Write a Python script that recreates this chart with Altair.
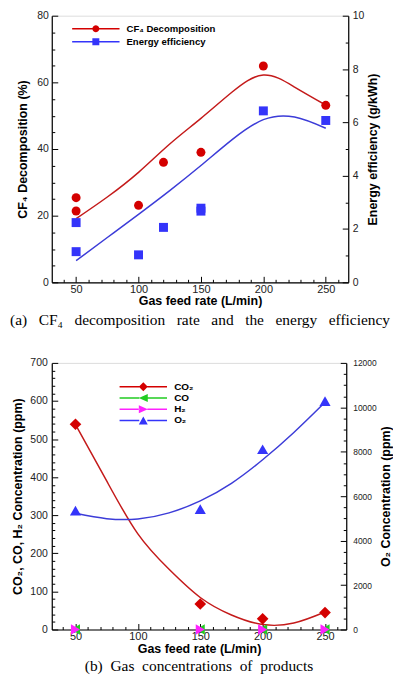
import math
import altair as alt
import pandas as pd

# ---------------- data ----------------
# (a) CF4 decomposition / energy efficiency
cf4_x = [50, 50, 100, 120, 150, 200, 250]
cf4_y = [25.4, 21.4, 23.1, 36.0, 39.0, 64.9, 53.1]
eff_x = [50, 50, 100, 120, 150, 150, 200, 250]
eff_y = [2.24, 1.15, 1.03, 2.06, 2.78, 2.67, 6.43, 6.07]
fit_x = [50, 75, 100, 125, 150, 175, 200, 225, 250]
cf4_fit = [19.1, 25.6, 33.0, 41.5, 49.2, 57.1, 62.2, 58.6, 53.2]
eff_fit = [0.81, 1.68, 2.55, 3.44, 4.38, 5.35, 6.10, 6.20, 5.78]

# (b) product gas concentrations
gas_x = [50, 150, 200, 250]
co2_y = [539, 67, 28, 44.5]
co_y = [0, 0, 0, 0]
h2_y = [0, 0, 0, 0]
o2_y = [5350, 5420, 8115, 10280]
co2_fit = [538, 390, 251, 158, 84, 38, 13, 17, 46]
o2_fit = [5230, 4990, 4975, 5250, 5790, 6580, 7640, 8870, 10230]

# tick labels
x_major = [50, 100, 150, 200, 250]
ya_left_major = [0, 20, 40, 60, 80]
ya_right_major = [0, 2, 4, 6, 8, 10]
yb_left_major = [0, 100, 200, 300, 400, 500, 600, 700]
yb_right_major = [0, 2000, 4000, 6000, 8000, 10000, 12000]

legend_a = ["CF\u2084 Decomposition", "Energy efficiency"]
legend_b = ["CO\u2082", "CO", "H\u2082", "O\u2082"]

# ---------------- styling ----------------
SANS = "Liberation Sans"
SERIF = "Liberation Serif"
RED_PT, RED_LN = "#d40000", "#c41a1a"
BLUE_PT, BLUE_LN = "#3434fa", "#3c3cd8"
GREEN, MAGENTA = "#22cc22", "#ff22ff"


def minor(lo, hi, step):
    out, v = [], lo
    while v <= hi + 1e-9:
        out.append(round(v, 4))
        v += step
    return out


def axis(orient, title, values, major_step, label_pad, label_size, **kw):
    is_major = f"abs(datum.value % {major_step}) < 1e-6"
    base = dict(
        orient=orient, title=title, values=values, format="d",
        labelExpr=f"{is_major} ? datum.label : ''",
        tickSize={"expr": "-6"}, tickColor="black", tickWidth=1,
        tickDash={"condition": {"test": f"!({is_major})", "value": [3, 20]}, "value": [20, 1]},
        labelPadding=label_pad + 6,
        domainColor="black", domainWidth=1.2,
        labelFont=SANS, labelFontSize=label_size, labelColor="#222",
        labelOverlap=False, labelFlush=False, labelBound=False,
        titleFont=SANS, titleFontSize=12.5, titleFontWeight="bold", titleColor="black",
        grid=False,
    )
    base.update(kw)
    return alt.Axis(**base)


def legend_path(marker, half_len, thick):
    bars = (f"M{-half_len},{-thick}H-0.9V{thick}H{-half_len}Z"
            f"M0.9,{-thick}H{half_len}V{thick}H0.9Z")
    return bars + marker


CIRCLE = "M" + "L".join(f"{math.cos(2 * math.pi * k / 20):.3f},{math.sin(2 * math.pi * k / 20):.3f}"
                        for k in range(20)) + "Z"
SQUARE = "M-1,-1H1V1H-1Z"
DIAMOND = "M-1,0L0,-1L1,0L0,1Z"
TRI_L = "M-1,0L1,-0.87L1,0.87Z"
TRI_R = "M1,0L-1,-0.87L-1,0.87Z"
TRI_U = "M0,-0.87L1,0.87L-1,0.87Z"

SP3 = "\u00a0\u00a0 "
SP2 = "\u00a0 "
cap_a = SP3.join(["(a)", "CF\u2084", "decomposition", "rate", "and", "the", "energy", "efficiency"])
cap_b = SP2.join(["(b)", "Gas", "concentrations", "of", "products"])

# ================= chart (a) =================
xa_scale = alt.Scale(domain=[30.5, 268], nice=False, zero=False)
xa_axis = axis("bottom", "Gas feed rate (L/min)", minor(40, 260, 10), 50, 1, 11, titlePadding=0.5)
ya_l_scale = alt.Scale(domain=[0, 80], nice=False)
ya_l_axis = axis("left", "CF\u2084 Decomposition (%)", minor(0, 80, 5), 20, 3.5, 10.5, titlePadding=7.5)
ya_r_scale = alt.Scale(domain=[0, 10], nice=False)
ya_r_axis = axis("right", "Energy efficiency (g/kWh)", minor(0, 10, 0.5), 2, 4, 10.5,
                 titlePadding=3, titleAngle=270, titleBaseline="top")

xa = alt.X("x:Q", scale=xa_scale, axis=xa_axis)

df_cf4 = pd.DataFrame({"x": cf4_x, "y": cf4_y})
df_eff = pd.DataFrame({"x": eff_x, "y": eff_y})
df_fit_a = pd.DataFrame({"x": fit_x, "cf4": cf4_fit, "eff": eff_fit})
df_leg_a = pd.DataFrame({"sa": legend_a, "x": [-1, -1], "y": [0, 0]})

ya_l = alt.Y("y:Q", scale=ya_l_scale, axis=ya_l_axis)
red_line = alt.Chart(df_fit_a).mark_line(color=RED_LN, strokeWidth=1.5, interpolate="natural").encode(
    x=xa, y=alt.Y("cf4:Q", scale=ya_l_scale, axis=ya_l_axis))
red_pts = alt.Chart(df_cf4).mark_point(shape="circle", filled=True, size=81, opacity=1, color=RED_PT).encode(
    x=xa, y=ya_l)
leg_a_kw = dict(title=None, orient="none", legendX=39.5, legendY=8.3, padding=0,
                labelFont=SANS, labelFontSize=9.6, labelFontWeight="bold", labelColor="black",
                symbolSize=49, symbolStrokeWidth=0, labelOffset=26, rowPadding=2)
leg_a = alt.Chart(df_leg_a).mark_point(filled=True, opacity=1).encode(
    x=xa, y=ya_l,
    color=alt.Color("sa:N", scale=alt.Scale(domain=legend_a, range=[RED_PT, BLUE_PT]),
                    legend=alt.Legend(**leg_a_kw)),
    shape=alt.Shape("sa:N", scale=alt.Scale(domain=legend_a, range=[
        legend_path(CIRCLE, 6.8, 0.21), legend_path(SQUARE, 6.8, 0.21)]),
        legend=alt.Legend(**leg_a_kw)),
).transform_filter("datum.x > 0")
left_a = alt.layer(red_line, red_pts, leg_a)

ya_r = alt.Y("y:Q", scale=ya_r_scale, axis=ya_r_axis)
blue_line = alt.Chart(df_fit_a).mark_line(color=BLUE_LN, strokeWidth=1.5, interpolate="natural").encode(
    x=xa, y=alt.Y("eff:Q", scale=ya_r_scale, axis=ya_r_axis))
blue_pts = alt.Chart(df_eff).mark_point(shape="square", filled=True, size=81, opacity=1, color=BLUE_PT).encode(
    x=xa, y=ya_r)
right_a = alt.layer(blue_line, blue_pts)

chart_a = alt.layer(left_a, right_a).resolve_scale(y="independent").properties(
    width=298, height=268,
    title=alt.TitleParams(cap_a, orient="bottom", anchor="middle", font=SERIF, fontSize=15.5,
                          fontWeight="normal", color="black", offset=5.5))

# ================= chart (b) =================
xb_scale = alt.Scale(domain=[31, 267], nice=False, zero=False)
xb_axis = axis("bottom", "Gas feed rate (L/min)", minor(40, 260, 10), 50, 1.5, 11, titlePadding=0.5)
yb_l_scale = alt.Scale(domain=[0, 700], nice=False)
yb_l_axis = axis("left", "CO\u2082, CO, H\u2082 Concentration (ppm)", minor(0, 700, 20), 100, 4.5, 10.5,
                 titlePadding=5.5)
yb_r_scale = alt.Scale(domain=[0, 12000], nice=False)
yb_r_axis = axis("right", "O\u2082 Concentration (ppm)", minor(0, 12000, 500), 2000, 6.5, 8.5,
                 titlePadding=3, titleAngle=270, titleBaseline="top")

xb = alt.X("x:Q", scale=xb_scale, axis=xb_axis)
df_co2 = pd.DataFrame({"x": gas_x, "y": co2_y})
df_co = pd.DataFrame({"x": gas_x, "y": co_y})
df_h2 = pd.DataFrame({"x": gas_x, "y": h2_y})
df_o2 = pd.DataFrame({"x": gas_x, "y": o2_y})
df_fit_b = pd.DataFrame({"x": fit_x, "co2": co2_fit, "o2": o2_fit})
df_leg_b = pd.DataFrame({"sb": legend_b, "x": [-1] * 4, "y": [0] * 4})

yb_l = alt.Y("y:Q", scale=yb_l_scale, axis=yb_l_axis)
co2_line = alt.Chart(df_fit_b).mark_line(color=RED_LN, strokeWidth=1.5, interpolate="natural").encode(
    x=xb, y=alt.Y("co2:Q", scale=yb_l_scale, axis=yb_l_axis))
co2_pts = alt.Chart(df_co2).mark_point(shape="diamond", filled=True, size=137, opacity=1, color=RED_PT).encode(
    x=xb, y=yb_l)
co_pts = alt.Chart(df_co).mark_point(shape="triangle-left", filled=True, size=110, opacity=1, color=GREEN).encode(
    x=xb, y=yb_l)
h2_pts = alt.Chart(df_h2).mark_point(shape="triangle-right", filled=True, size=110, opacity=1, color=MAGENTA).encode(
    x=xb, y=yb_l)
leg_b_kw = dict(title=None, orient="none", legendX=87, legendY=19, padding=0,
                labelFont=SANS, labelFontSize=10, labelFontWeight="bold", labelColor="black",
                symbolSize=81, symbolStrokeWidth=0, labelOffset=26, rowPadding=1.3)
leg_b = alt.Chart(df_leg_b).mark_point(filled=True, opacity=1).encode(
    x=xb, y=yb_l,
    color=alt.Color("sb:N", scale=alt.Scale(domain=legend_b, range=[RED_PT, GREEN, MAGENTA, BLUE_PT]),
                    legend=alt.Legend(**leg_b_kw)),
    shape=alt.Shape("sb:N", scale=alt.Scale(domain=legend_b, range=[
        legend_path(DIAMOND, 5.3, 0.17), legend_path(TRI_L, 5.3, 0.17),
        legend_path(TRI_R, 5.3, 0.17), legend_path(TRI_U, 5.3, 0.17)]),
        legend=alt.Legend(**leg_b_kw)),
).transform_filter("datum.x > 0")
left_b = alt.layer(co2_line, co2_pts, co_pts, h2_pts, leg_b)

yb_r = alt.Y("y:Q", scale=yb_r_scale, axis=yb_r_axis)
o2_line = alt.Chart(df_fit_b).mark_line(color=BLUE_LN, strokeWidth=1.5, interpolate="natural").encode(
    x=xb, y=alt.Y("o2:Q", scale=yb_r_scale, axis=yb_r_axis))
o2_pts = alt.Chart(df_o2).mark_point(shape="triangle-up", filled=True, size=125, opacity=1, color=BLUE_PT).encode(
    x=xb, y=yb_r)
right_b = alt.layer(o2_line, o2_pts)

chart_b = alt.layer(left_b, right_b).resolve_scale(y="independent").properties(
    width=296, height=268,
    title=alt.TitleParams(cap_b, orient="bottom", anchor="middle", font=SERIF, fontSize=15.5,
                          fontWeight="normal", color="black", offset=4))

chart = alt.vconcat(chart_a, chart_b, spacing=28).resolve_scale(
    color="independent", shape="independent"
).properties(
    padding={"left": 1, "top": 0, "right": 0, "bottom": 0}
).configure_view(stroke=None).configure(background="white")

chart.save("out.html", embed_options={"renderer": "svg", "actions": False})
